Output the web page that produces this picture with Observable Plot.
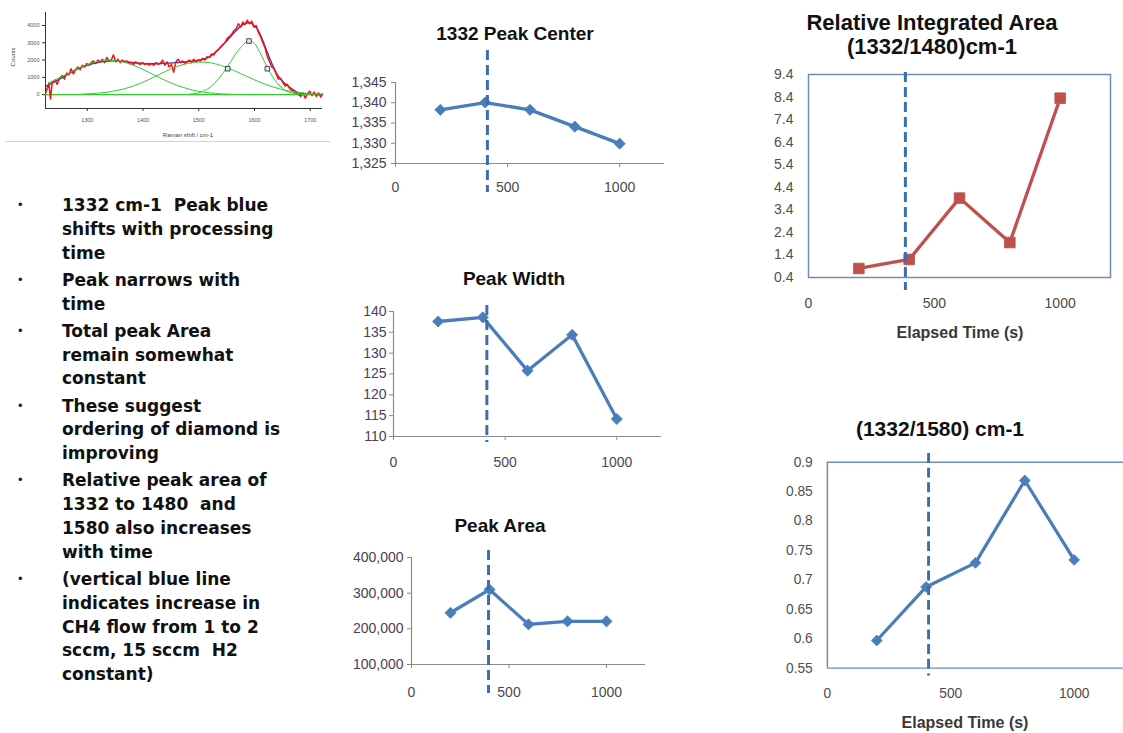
<!DOCTYPE html>
<html>
<head>
<meta charset="utf-8">
<script src="https://cdn.jsdelivr.net/npm/d3@7"></script>
<script src="https://cdn.jsdelivr.net/npm/@observablehq/plot@0.6"></script>
<style>
  html, body { margin: 0; padding: 0; background: #fff; }
  #slide { position: relative; width: 1123px; height: 733px; overflow: hidden; background: #fff;
           font-family: "Liberation Sans", Arial, sans-serif; }
  .abs { position: absolute; }
  .title { position: absolute; transform: translate(-50%, -50%); font-weight: bold; color: #111;
           white-space: nowrap; line-height: 1; text-align: center; }
  .bullet-line { position: absolute; left: 62px; font-family: "DejaVu Sans", Verdana, sans-serif;
                 font-weight: bold; font-size: 17px; color: #111; white-space: pre;
                 line-height: 24px; height: 24px; }
  .bullet-dot { position: absolute; left: 18px; font-family: "Liberation Sans", Arial, sans-serif;
                font-size: 13px; color: #222; line-height: 24px; }
  .tiny { position: absolute; font-size: 6px; color: #444; white-space: nowrap; transform: translate(-50%, -50%); }
  #slide svg g[aria-label$="tick"] path, #slide svg g[aria-label$="tick"] line { stroke: #8a8a8a; }
  #slide .inset svg g[aria-label$="tick"] path, #slide .inset svg g[aria-label$="tick"] line { stroke: #333; }
</style>
</head>
<body>
<div id="slide"></div>
<script>
// ---- Process time series (elapsed time in seconds) ----
const elapsed = [200, 400, 600, 800, 1000];
const peakCenter = [1338.25, 1340.05, 1338.25, 1334.1, 1329.9];
const peakWidth = [137.6, 138.6, 125.8, 134.4, 114.2];
const peakArea = [245000, 310000, 212500, 221000, 221000];
const ratio1332to1480 = [0.8, 1.2, 3.92, 1.95, 8.35];
const ratio1332to1580 = [0.597, 0.688, 0.729, 0.869, 0.734];

// time at which CH4 flow was raised from 1 to 2 sccm (as drawn on each panel)
const flowChangeAt = [410, 418, 395, 385, 410];

// ---- Tick values ----
const timeTicks = [0, 500, 1000];
const centerTicks = [1325, 1330, 1335, 1340, 1345];
const widthTicks = [110, 115, 120, 125, 130, 135, 140];
const areaTicks = [100000, 200000, 300000, 400000];
const ratio1480Ticks = [0.4, 1.4, 2.4, 3.4, 4.4, 5.4, 6.4, 7.4, 8.4, 9.4];
const ratio1580Ticks = [0.55, 0.6, 0.65, 0.7, 0.75, 0.8, 0.85, 0.9];

// ---- Raman spectrum with peak fit (Raman shift cm-1, counts) ----
const spectrum = [
  [1226,150],[1231,650],[1234,-250],[1237,700],[1242,850],[1246,600],[1250,950],[1255,1100],
  [1259,900],[1263,1250],[1267,1150],[1271,1500],[1275,1200],[1279,1450],[1283,1600],[1287,1450],
  [1291,1700],[1295,1600],[1299,1800],[1303,1700],[1307,1850],[1311,1950],[1315,1800],[1319,2000],
  [1323,1900],[1327,2050],[1331,1850],[1335,2150],[1339,1950],[1343,2000],[1347,2300],[1351,1900],
  [1355,2050],[1359,1850],[1363,2000],[1367,1900],[1371,1950],[1375,1800],[1379,1850],[1383,1750],
  [1387,1900],[1391,1800],[1395,1750],[1399,1850],[1403,1750],[1407,1800],[1411,1700],[1415,1800],
  [1419,1700],[1423,1850],[1427,1750],[1431,1800],[1435,2000],[1439,1700],[1443,1900],[1447,1600],
  [1451,1750],[1455,1300],[1459,1900],[1463,2050],[1467,1850],[1471,1950],[1475,1800],[1479,1900],
  [1483,2000],[1487,1850],[1491,2050],[1495,1900],[1499,2000],[1503,1950],[1507,2100],[1511,2000],
  [1515,2200],[1519,2150],[1523,2350],[1527,2300],[1531,2500],[1535,2600],[1539,2750],[1543,2900],
  [1547,3000],[1551,3250],[1555,3350],[1559,3500],[1563,3700],[1567,3800],[1571,4100],[1575,3900],
  [1579,4200],[1583,4050],[1587,4300],[1591,4100],[1595,4250],[1599,3900],[1603,4000],[1607,3600],
  [1611,3350],[1615,3000],[1619,2700],[1623,2200],[1627,1900],[1631,1600],[1635,1500],[1639,1200],
  [1643,900],[1647,950],[1651,700],[1655,500],[1659,600],[1663,350],[1667,250],[1671,150],
  [1675,100],[1679,0],[1683,-100],[1687,100],[1691,-200],[1695,50],[1699,200],[1703,-50],
  [1707,150],[1711,-100],[1715,100],[1719,-150],[1722,50]
];
const fitTotal = [
  [1226,500],[1250,900],[1280,1450],[1310,1800],[1340,1950],[1370,1900],[1400,1800],[1430,1800],
  [1460,1850],[1490,1950],[1520,2200],[1550,3100],[1575,3950],[1590,4150],[1605,3800],[1620,2700],
  [1640,1200],[1660,500],[1680,100],[1700,20],[1722,0]
];
const fitBand1332 = [
  [1230,680],[1250,970],[1270,1300],[1290,1620],[1310,1850],[1330,1970],[1340,1990],[1350,1970],
  [1370,1840],[1390,1600],[1410,1300],[1430,980],[1450,680],[1470,440],[1490,260],[1510,140],
  [1530,70],[1550,30],[1570,10],[1600,0]
];
const fitBand1480 = [
  [1290,30],[1320,90],[1350,220],[1380,470],[1410,870],[1440,1340],[1470,1720],[1500,1880],
  [1530,1780],[1560,1440],[1590,1000],[1620,590],[1650,290],[1680,120],[1710,40],[1722,20]
];
const fitBand1580 = [
  [1480,20],[1500,110],[1520,420],[1535,900],[1550,1550],[1565,2300],[1580,2900],[1590,3110],
  [1600,2950],[1612,2300],[1625,1450],[1640,700],[1655,260],[1670,70],[1690,10],[1710,0]
];
const fitMarkers = [[1552,1500],[1590,3100],[1623,1500]];
const ramanTicks = [1300, 1400, 1500, 1600, 1700];
const countTicks = [0, 1000, 2000, 3000, 4000];

// ---- Bullet notes ----
const notes = [
  ["1332 cm-1  Peak blue", "shifts with processing", "time"],
  ["Peak narrows with", "time"],
  ["Total peak Area", "remain somewhat", "constant"],
  ["These suggest", "ordering of diamond is", "improving"],
  ["Relative peak area of", "1332 to 1480  and", "1580 also increases", "with time"],
  ["(vertical blue line", "indicates increase in", "CH4 flow from 1 to 2", "sccm, 15 sccm  H2", "constant)"]
];

const slide = document.getElementById("slide");

function place(node, left, top, cls) {
  const wrap = document.createElement("div");
  wrap.className = "abs" + (cls ? " " + cls : "");
  wrap.style.left = left + "px";
  wrap.style.top = top + "px";
  wrap.appendChild(node);
  slide.appendChild(wrap);
  return wrap;
}

function label(text, cx, cy, cls, css) {
  const d = document.createElement("div");
  d.className = cls;
  d.innerHTML = text;
  d.style.left = cx + "px";
  d.style.top = cy + "px";
  Object.assign(d.style, css || {});
  slide.appendChild(d);
  return d;
}

const BLUE = "#4a7ebb";
const RED = "#c0504d";
const DASH = "#3d6fab";
const AXIS = "#8c8c8c";
const FRAME = "#6f8cb3";

// One panel: plot box given in slide pixels [x0, x1, y0, y1]
function panel(cfg) {
  const [x0, x1, y0, y1] = cfg.box;
  const [mt, mr, mb, ml] = cfg.margin;
  const rows = elapsed.map((t, i) => ({t, v: cfg.values[i]}));
  const marks = [];
  if (cfg.framed === "full") {
    marks.push(Plot.frame({stroke: FRAME, strokeWidth: 1.5}));
  } else if (cfg.framed === "open") {
    // plot area border that runs on past the right edge of the slide
    marks.push(Plot.ruleX([cfg.xDomain[0]], {stroke: FRAME, strokeWidth: 1.5}));
    marks.push(Plot.ruleY(cfg.yDomain, {stroke: FRAME, strokeWidth: 1.5}));
  } else {
    marks.push(Plot.ruleX([cfg.xDomain[0]], {stroke: AXIS, strokeWidth: 1.2}));
    marks.push(Plot.ruleY([cfg.yDomain[0]], {stroke: AXIS, strokeWidth: 1.2}));
  }
  marks.push(Plot.line(rows, {x: "t", y: "v", stroke: cfg.color, strokeWidth: 3.3}));
  marks.push(Plot.dot(rows, {x: "t", y: "v", symbol: cfg.symbol, r: cfg.r, fill: cfg.color, stroke: cfg.color, strokeWidth: 0.8}));
  marks.push(Plot.ruleX([cfg.dashAt], {stroke: DASH, strokeWidth: 3, strokeDasharray: "10,5",
    insetTop: cfg.dashInset[0], insetBottom: cfg.dashInset[1]}));
  const svg = Plot.plot({
    width: x1 - x0 + ml + mr,
    height: y1 - y0 + mt + mb,
    marginTop: mt, marginRight: mr, marginBottom: mb, marginLeft: ml,
    style: {fontFamily: "'Liberation Sans', Arial, sans-serif", fontSize: "14px", color: cfg.yColor,
            background: "transparent", overflow: "visible"},
    x: {domain: cfg.xDomain, ticks: timeTicks, tickSize: cfg.xTickSize, tickPadding: cfg.xPad,
        tickFormat: d => String(d), label: null},
    y: {domain: cfg.yDomain, ticks: cfg.yTicks, tickSize: cfg.yTickSize, tickPadding: cfg.yPad,
        tickFormat: cfg.yFormat, label: null},
    marks
  });
  place(svg, x0 - ml, y0 - mt);
  // x tick labels share the grey of the time axis
  svg.querySelectorAll('g[aria-label="x-axis tick label"], g[aria-label="x-axis"] text').forEach(g => g.setAttribute("fill", "#4a4a4a"));
}

// 1332 peak centre
panel({box: [395, 664, 82, 163], margin: [40, 10, 40, 62], xDomain: [0, 1200], yDomain: [1325, 1345],
  yTicks: centerTicks, yFormat: d3.format(","), values: peakCenter, color: BLUE, symbol: "diamond2", r: 5,
  xTickSize: 4, xPad: 15, yTickSize: 4, yPad: 5, yColor: "#4b3e55",
  dashAt: flowChangeAt[0], dashInset: [-32, -29]});
label("1332 Peak Center", 515, 33, "title", {fontSize: "19px"});

// Peak width
panel({box: [393, 661, 311, 436], margin: [14, 10, 40, 60], xDomain: [0, 1200], yDomain: [110, 140],
  yTicks: widthTicks, yFormat: d => String(d), values: peakWidth, color: BLUE, symbol: "diamond2", r: 5,
  xTickSize: 4, xPad: 17, yTickSize: 4, yPad: 3, yColor: "#4b3e55",
  dashAt: flowChangeAt[1], dashInset: [-6, -6]});
label("Peak Width", 514, 278, "title", {fontSize: "19px"});

// Peak area
panel({box: [411, 645, 557, 664], margin: [14, 10, 40, 78], xDomain: [0, 1200], yDomain: [100000, 400000],
  yTicks: areaTicks, yFormat: d3.format(","), values: peakArea, color: BLUE, symbol: "diamond2", r: 5,
  xTickSize: 4, xPad: 18.5, yTickSize: 4, yPad: 4, yColor: "#4b3e55",
  dashAt: flowChangeAt[2], dashInset: [-7, -29]});
label("Peak Area", 500, 525, "title", {fontSize: "19px"});

// Relative integrated area 1332 / 1480
panel({box: [808, 1110, 74, 277], margin: [10, 10, 40, 50], xDomain: [0, 1200], yDomain: [0.4, 9.4], framed: "full",
  yTicks: ratio1480Ticks, yFormat: d3.format(".1f"), values: ratio1332to1480, color: RED, symbol: "square", r: 6,
  xTickSize: 0, xPad: 21, yTickSize: 0, yPad: 15, yColor: "#4f4f4f",
  dashAt: flowChangeAt[3], dashInset: [-2, -13]});
label("Relative Integrated Area<br>(1332/1480)cm-1", 932, 35, "title", {fontSize: "22px", lineHeight: "24px"});
label("Elapsed Time (s)", 960, 333, "title", {fontSize: "16px", color: "#383838"});

// Relative integrated area 1332 / 1580
panel({box: [828, 1130, 462, 672], margin: [12, 0, 40, 55], xDomain: [0, 1200], yDomain: [0.55, 0.9], framed: "open",
  yTicks: ratio1580Ticks, yFormat: d => String(d), values: ratio1332to1580, color: BLUE, symbol: "diamond2", r: 5,
  xTickSize: 0, xPad: 21, yTickSize: 0, yPad: 15, yColor: "#4f4f4f",
  dashAt: flowChangeAt[4], dashInset: [-9, -8]});
label("(1332/1580) cm-1", 940, 428, "title", {fontSize: "21px"});
label("Elapsed Time (s)", 965, 723, "title", {fontSize: "16px", color: "#383838"});

// ---- Raman spectrum inset ----
{
  const x0 = 45, x1 = 322, y0 = 12, y1 = 108;
  const mt = 4, mr = 6, mb = 20, ml = 30;
  const svg = Plot.plot({
    width: x1 - x0 + ml + mr,
    height: y1 - y0 + mt + mb,
    marginTop: mt, marginRight: mr, marginBottom: mb, marginLeft: ml,
    style: {fontFamily: "'Liberation Sans', Arial, sans-serif", fontSize: "5.5px", color: "#555",
            background: "transparent", overflow: "visible"},
    x: {domain: [1225, 1722], ticks: ramanTicks, tickSize: 3, tickPadding: 7, label: null, tickFormat: d => String(d)},
    y: {domain: [-800, 4750], ticks: countTicks, tickSize: 3, tickPadding: 3, label: null, tickFormat: d => String(d)},
    marks: [
      Plot.ruleX([1225], {stroke: "#333", strokeWidth: 1}),
      Plot.ruleY([-800], {stroke: "#333", strokeWidth: 1}),
      Plot.ruleY([0], {stroke: "#2ecc2e", strokeWidth: 1.2}),
      Plot.line(fitTotal, {x: d => d[0], y: d => d[1], stroke: "#3a3aa6", strokeWidth: 1.4, curve: "natural"}),
      Plot.line(spectrum, {x: d => d[0], y: d => d[1], stroke: "#ff1010", strokeWidth: 1.5}),
      Plot.line(fitBand1332, {x: d => d[0], y: d => d[1], stroke: "#33cc33", strokeWidth: 1, curve: "natural"}),
      Plot.line(fitBand1480, {x: d => d[0], y: d => d[1], stroke: "#33cc33", strokeWidth: 1, curve: "natural"}),
      Plot.line(fitBand1580, {x: d => d[0], y: d => d[1], stroke: "#33cc33", strokeWidth: 1, curve: "natural"}),
      Plot.dot(fitMarkers, {x: d => d[0], y: d => d[1], symbol: "square", r: 2.6, fill: "#dfe6ee", stroke: "#334", strokeWidth: 0.9})
    ]
  });
  place(svg, x0 - ml, y0 - mt, "inset");
  label("Counts", 13, 57, "tiny", {transform: "translate(-50%,-50%) rotate(-90deg)"});
  label("Raman shift / cm-1", 188, 135, "tiny", {});
  const rule = document.createElement("div");
  rule.style.cssText = "position:absolute;left:5px;top:141px;width:325px;height:1px;background:#d2d2d2;";
  slide.appendChild(rule);
}

// ---- Bullet notes ----
{
  let y = 193;
  notes.forEach(lines => {
    const dot = document.createElement("div");
    dot.className = "bullet-dot";
    dot.textContent = "\u2022";
    dot.style.top = y + "px";
    slide.appendChild(dot);
    lines.forEach(t => {
      const d = document.createElement("div");
      d.className = "bullet-line";
      d.textContent = t;
      d.style.top = y + "px";
      slide.appendChild(d);
      y += 23.8;
    });
    y += 3.4;
  });
}
</script>
</body>
</html>
